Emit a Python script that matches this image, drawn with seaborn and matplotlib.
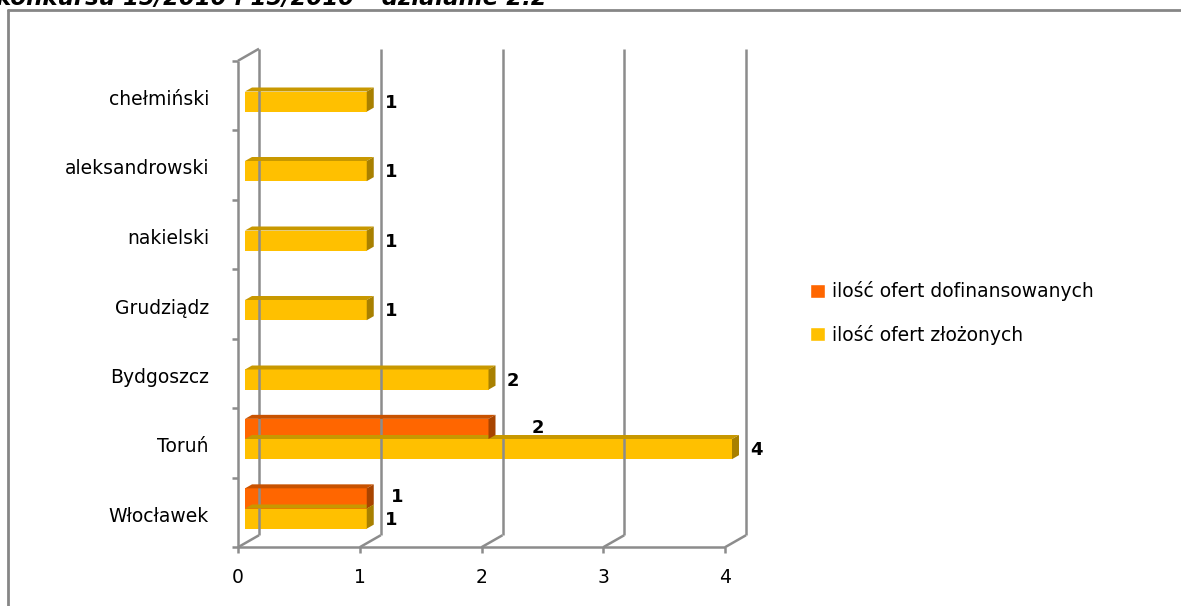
import numpy as np
import pandas as pd
import matplotlib
matplotlib.use("Agg")
import matplotlib.pyplot as plt
import seaborn as sns
from matplotlib.lines import Line2D
from matplotlib.patches import Polygon
from matplotlib.transforms import IdentityTransform, ScaledTranslation

categories = ["chełmiński", "aleksandrowski", "nakielski", "Grudziądz", "Bydgoszcz", "Toruń", "Włocławek"]
series_names = ["ilość ofert dofinansowanych", "ilość ofert złożonych"]
dofinansowanych = [0, 0, 0, 0, 0, 2, 1]
zlozonych = [1, 1, 1, 1, 2, 4, 1]
x_ticks = [0, 1, 2, 3, 4]
title_text = "konkursu 15/2010 i 15/2010 – działanie 2.2"

front_colors = ["#FF6600", "#FFC000"]
top_colors = ["#C85200", "#C89800"]
side_colors = ["#A84400", "#A88000"]

df = pd.DataFrame({
    "kat": categories * 2,
    "seria": [series_names[0]] * len(categories) + [series_names[1]] * len(categories),
    "wartosc": dofinansowanych + zlozonych,
})

sns.set_style("white")
plt.rcParams["font.family"] = ["DejaVu Sans"]
plt.rcParams["text.color"] = "black"

W, H = 1181, 606
fig = plt.figure(figsize=(W / 100, H / 100), dpi=100)
ax_left, ax_right = 245, 732
ax_top, ax_bot = 56.75, 543.25
ax = fig.add_axes([ax_left / W, (H - ax_bot) / H, (ax_right - ax_left) / W, (ax_bot - ax_top) / H])

sns.barplot(data=df, y="kat", x="wartosc", hue="seria", hue_order=series_names,
            order=categories, palette=front_colors, orient="h", width=0.58,
            saturation=1, ax=ax, legend=True, zorder=3)
handles, labels = ax.get_legend_handles_labels()
if ax.get_legend() is not None:
    ax.get_legend().remove()

ax.set_xlim(0, 4)
ax.set_ylim(len(categories) - 0.5, -0.5)
for s in ax.spines.values():
    s.set_visible(False)
ax.set_xlabel("")
ax.set_ylabel("")
ax.set_xticks(x_ticks)
ax.set_xticklabels([str(t) for t in x_ticks])
ax.tick_params(axis="both", length=0, labelsize=13.5, colors="#000000")
ax.tick_params(axis="x", pad=18)
ax.tick_params(axis="y", pad=26)
ax.grid(False)
ax.patch.set_alpha(0)

shift_x = ScaledTranslation(-7 / 100, 0, fig.dpi_scale_trans)
shift_y = ScaledTranslation(0, -6 / 100, fig.dpi_scale_trans)
for lab in ax.get_xticklabels():
    lab.set_transform(lab.get_transform() + shift_x)
for lab in ax.get_yticklabels():
    lab.set_transform(lab.get_transform() + shift_y)

fig.canvas.draw()
tD = ax.transData
ident = IdentityTransform()

FRONT = (-7, -4)
BACK = (14, 8)
DEPTH = (7, 4)


def P(x, y, off=(0, 0)):
    px, py = tD.transform((x, y))
    return px + off[0], py + off[1]


grid_c = "#8C8C8C"
lw = 1.8
y_lo, y_hi = len(categories) - 0.5, -0.5


def line(p1, p2, z=1, c=grid_c, w=lw):
    fig.add_artist(Line2D([p1[0], p2[0]], [p1[1], p2[1]], transform=ident,
                          color=c, lw=w, zorder=z, solid_capstyle="butt"))

for xv in x_ticks:
    line(P(xv, y_lo, BACK), P(xv, y_hi, BACK))
    line(P(xv, y_lo, FRONT), P(xv, y_lo, BACK))
    fx, fy = P(xv, y_lo, FRONT)
    line((fx, fy), (fx, fy - 6))
line(P(0, y_lo, FRONT), P(4, y_lo, FRONT))
line(P(0, y_lo, FRONT), P(0, y_hi, FRONT))
line(P(0, y_hi, FRONT), P(0, y_hi, BACK))
for k in range(len(categories) + 1):
    fx, fy = P(0, k - 0.5, FRONT)
    line((fx, fy), (fx - 6, fy))

bars = [p for p in ax.patches if hasattr(p, "get_width")]
n = len(categories)
for i, p in enumerate(bars[:2 * n]):
    s = 0 if i < n else 1
    w = p.get_width()
    if w <= 0:
        continue
    x0, yb = p.get_x(), p.get_y()
    h = p.get_height()
    xl, ytop = P(x0, yb)
    xr, ybot = P(x0 + w, yb + h)
    dx, dy = DEPTH
    top = Polygon([(xl, ytop), (xr, ytop), (xr + dx, ytop + dy), (xl + dx, ytop + dy)],
                  closed=True, transform=ident, facecolor=top_colors[s], edgecolor="none", zorder=2)
    side = Polygon([(xr, ybot), (xr, ytop), (xr + dx, ytop + dy), (xr + dx, ybot + dy)],
                   closed=True, transform=ident, facecolor=side_colors[s], edgecolor="none", zorder=2.5)
    fig.add_artist(top)
    fig.add_artist(side)
    p.set_edgecolor("none")

for i, cat in enumerate(categories):
    for s, vals in enumerate([dofinansowanych, zlozonych]):
        v = vals[i]
        if v <= 0:
            continue
        yc = i - 0.145 if s == 0 else i + 0.145
        off = 18
        if s == 0:
            off = 43 if v < zlozonych[i] else 24
        ax.annotate(str(v), xy=(v, yc), xytext=(off, -1 if s == 1 else 1),
                    textcoords="offset pixels", ha="left", va="center",
                    fontsize=13, fontweight="bold", color="black", zorder=5,
                    annotation_clip=False)

fig.legend(handles, labels, loc="center left", bbox_to_anchor=(810 / W, 1 - 313 / H),
           frameon=False, fontsize=13.5, handlelength=0.8, handleheight=0.8,
           handletextpad=0.4, labelspacing=1.25, borderaxespad=0, borderpad=0,
           labelcolor="black")

fig.add_artist(Line2D([8 / W, 8 / W], [0, 1 - 10 / H], transform=fig.transFigure, color="#868686", lw=2))
fig.add_artist(Line2D([8 / W, 1], [1 - 10 / H, 1 - 10 / H], transform=fig.transFigure, color="#868686", lw=2))

fig.text(-4 / W, 1 - 5 / H, title_text, fontsize=16.5, fontweight="bold", style="italic",
         va="baseline", ha="left", color="black")

fig.savefig("out.png", dpi=100)
